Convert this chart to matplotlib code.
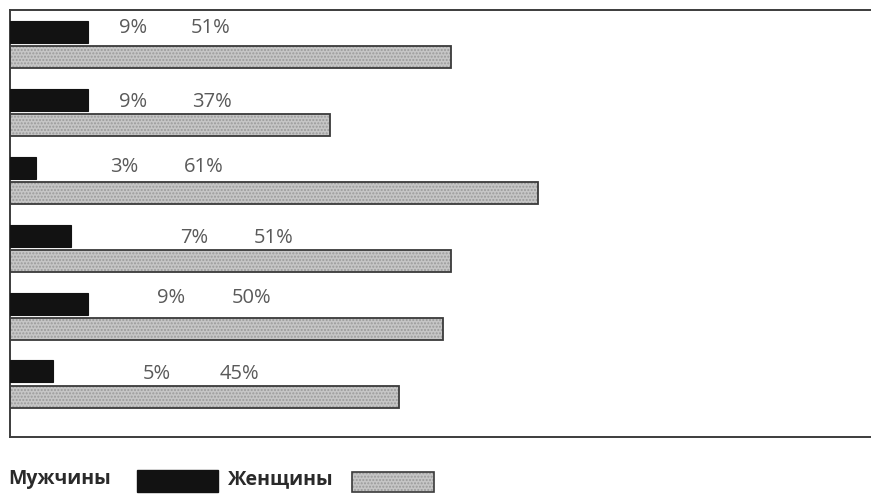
import matplotlib
matplotlib.use("Agg")
import matplotlib.pyplot as plt
from matplotlib.patches import Rectangle

# ---- data ----
men = [9, 9, 3, 7, 9, 5]
women = [51, 37, 61, 51, 50, 45]
men_labels = ["9%", "9%", "3%", "7%", "9%", "5%"]
women_labels = ["51%", "37%", "61%", "51%", "50%", "45%"]
legend_labels = ["Мужчины", "Женщины"]

# ---- label layout (x positions in axis units, y offsets in group units) ----
men_lab_x = [14.2, 14.2, 13.2, 21.3, 18.6, 17.0]
women_lab_x = [23.2, 23.3, 22.4, 30.5, 27.9, 26.5]
lab_dy = [-0.24, -0.14, -0.19, -0.15, -0.26, -0.15]

plt.rcParams['font.family'] = ['Open Sans', 'DejaVu Sans']

W, H = 871, 495
fig = plt.figure(figsize=(W / 100, H / 100), dpi=100)
fig.patch.set_facecolor('white')

ax_left, ax_top, ax_bottom = 10, 10, 437
ax = fig.add_axes([ax_left / W, 1 - ax_bottom / H, 1.0, (ax_bottom - ax_top) / H])

px_per_unit = 8.75
ax.set_xlim(0, (W - ax_left + 20) / px_per_unit)
grp_px = 68.0
first_px = 44 - ax_top
ax.set_ylim((ax_bottom - ax_top - first_px) / grp_px, -first_px / grp_px)

bh = 22 / grp_px
gap = 1.5 / grp_px
n = len(men)
ys = list(range(n))

ax.barh([y - bh / 2 - gap for y in ys], men, height=bh, left=0,
        color='#121212', edgecolor='#121212', linewidth=0.8, zorder=3)
ax.barh([y + bh / 2 + gap for y in ys], women, height=bh, left=0,
        color='#c6c6c6', edgecolor='none', linewidth=0, zorder=2)
ax.barh([y + bh / 2 + gap for y in ys], women, height=bh, left=0,
        color='none', edgecolor='#9a9a9a', hatch='.....', linewidth=0, zorder=2.5)
ax.barh([y + bh / 2 + gap for y in ys], women, height=bh, left=0,
        color='none', edgecolor='#3a3a3a', linewidth=1.3, zorder=3)

for i in range(n):
    ty = ys[i] + lab_dy[i]
    ax.text(men_lab_x[i], ty, men_labels[i], ha='center', va='center',
            fontsize=14.5, color='#5a5a5a', zorder=4)
    ax.text(women_lab_x[i], ty, women_labels[i], ha='center', va='center',
            fontsize=14.5, color='#5a5a5a', zorder=4)

ax.set_xticks([])
ax.set_yticks([])
for s in ['left', 'top', 'bottom']:
    ax.spines[s].set_color('#3c3c3c')
    ax.spines[s].set_linewidth(1.4)
ax.spines['right'].set_visible(False)

# ---- legend ----
fig.text(8 / W, 1 - 479 / H, legend_labels[0], ha='left', va='center',
         fontsize=14, fontweight='bold', color='#2a2a2a')
fig.add_artist(Rectangle((137 / W, 1 - 492 / H), 81 / W, 22 / H,
                         transform=fig.transFigure, facecolor='#121212',
                         edgecolor='#121212'))
fig.text(228 / W, 1 - 479 / H, legend_labels[1], ha='left', va='center',
         fontsize=14, fontweight='bold', color='#2a2a2a')
fig.add_artist(Rectangle((352 / W, 1 - 492 / H), 82 / W, 20 / H,
                         transform=fig.transFigure, facecolor='#c6c6c6',
                         edgecolor='none'))
fig.add_artist(Rectangle((352 / W, 1 - 492 / H), 82 / W, 20 / H,
                         transform=fig.transFigure, facecolor='none',
                         edgecolor='#9a9a9a', hatch='.....', linewidth=0))
fig.add_artist(Rectangle((352 / W, 1 - 492 / H), 82 / W, 20 / H,
                         transform=fig.transFigure, facecolor='none',
                         edgecolor='#3a3a3a', linewidth=1.2))

fig.savefig('out.png', dpi=100, facecolor='white')
